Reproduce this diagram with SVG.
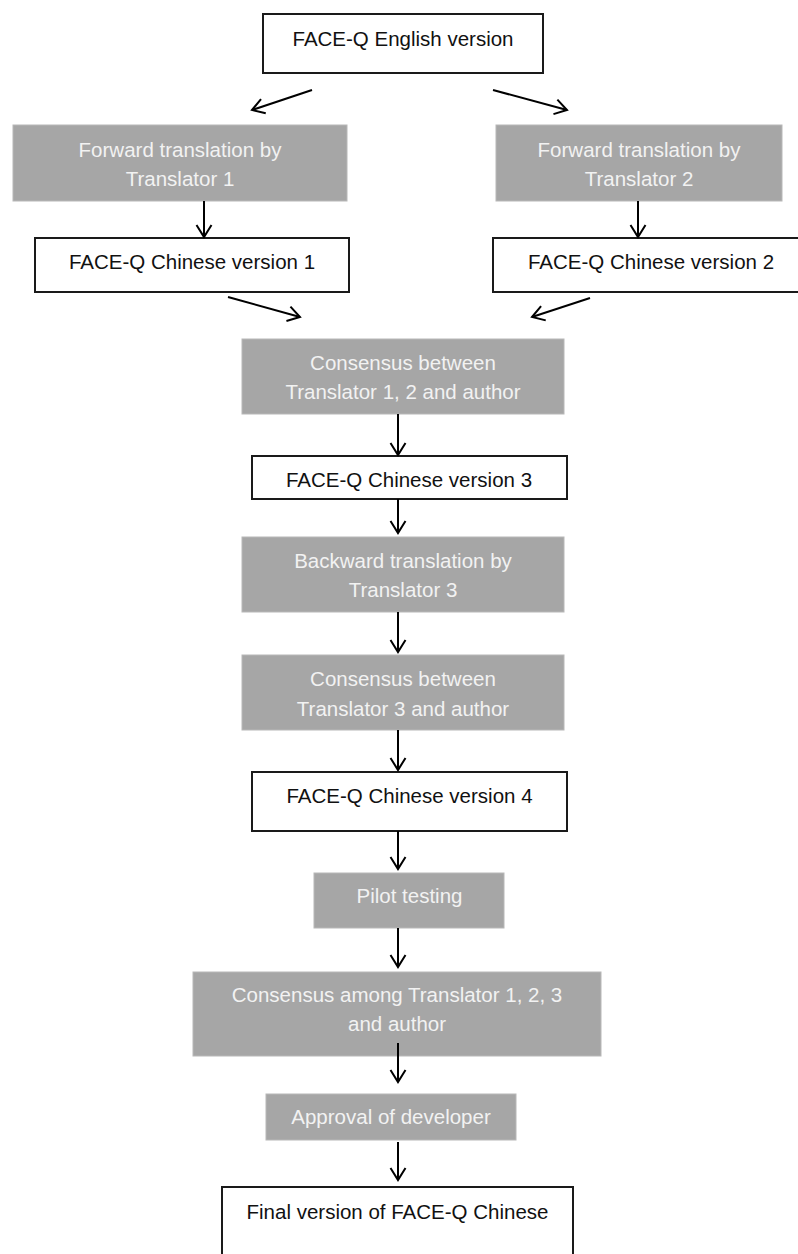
<svg xmlns="http://www.w3.org/2000/svg" width="798" height="1254" viewBox="0 0 798 1254">
<defs>
<style>
.w{fill:#ffffff;stroke:#1a1a1a;stroke-width:2}
.g{fill:#a6a6a6;stroke:#b8b8b8;stroke-width:1}
.tb{font-family:"Liberation Sans",Arial,sans-serif;font-size:20.5px;fill:#111111;text-anchor:middle}
.tw{font-family:"Liberation Sans",Arial,sans-serif;font-size:20.5px;fill:#f2f2f2;text-anchor:middle}
.c{stroke:#000000;stroke-width:2;fill:none;marker-end:url(#ah)}
</style>
<marker id="ah" markerUnits="userSpaceOnUse" markerWidth="20" markerHeight="20" refX="0" refY="0" viewBox="-14 -10 16 20" orient="auto">
<path d="M-12,-7.5 L0,0 L-12,7.5" fill="none" stroke="#000000" stroke-width="2"/>
</marker>
</defs>
<rect width="798" height="1254" fill="#ffffff"/>
<g id="english"><rect class="w" x="263" y="14" width="280" height="59"/><text class="tb" x="403" y="46">FACE-Q English version</text></g>
<g id="fwd1"><rect class="g" x="13" y="125" width="334" height="76"/><text class="tw" x="180" y="157">Forward translation by</text><text class="tw" x="180" y="186">Translator 1</text></g>
<g id="fwd2"><rect class="g" x="496" y="125" width="286" height="76"/><text class="tw" x="639" y="157">Forward translation by</text><text class="tw" x="639" y="186">Translator 2</text></g>
<g id="cn1"><rect class="w" x="35" y="238" width="314" height="54"/><text class="tb" x="192" y="269">FACE-Q Chinese version 1</text></g>
<g id="cn2"><rect class="w" x="493" y="238" width="316" height="54"/><text class="tb" x="651" y="269">FACE-Q Chinese version 2</text></g>
<g id="cons12"><rect class="g" x="242" y="339" width="322" height="75"/><text class="tw" x="403" y="370">Consensus between</text><text class="tw" x="403" y="399">Translator 1, 2 and author</text></g>
<g id="cn3"><rect class="w" x="252" y="456" width="315" height="43"/><text class="tb" x="409" y="487">FACE-Q Chinese version 3</text></g>
<g id="back"><rect class="g" x="242" y="537" width="322" height="75"/><text class="tw" x="403" y="568">Backward translation by</text><text class="tw" x="403" y="597">Translator 3</text></g>
<g id="cons3"><rect class="g" x="242" y="655" width="322" height="75"/><text class="tw" x="403" y="686">Consensus between</text><text class="tw" x="403" y="716">Translator 3 and author</text></g>
<g id="cn4"><rect class="w" x="252" y="772" width="315" height="59"/><text class="tb" x="409.5" y="803">FACE-Q Chinese version 4</text></g>
<g id="pilot"><rect class="g" x="314" y="873" width="190" height="55"/><text class="tw" x="409.5" y="903">Pilot testing</text></g>
<g id="consall"><rect class="g" x="193" y="972" width="408" height="84"/><text class="tw" x="397" y="1002">Consensus among Translator 1, 2, 3</text><text class="tw" x="397" y="1031">and author</text></g>
<g id="approval"><rect class="g" x="266" y="1094" width="250" height="46"/><text class="tw" x="391" y="1124">Approval of developer</text></g>
<g id="final"><rect class="w" x="222" y="1187" width="351" height="80"/><text class="tb" x="397.5" y="1219">Final version of FACE-Q Chinese</text></g>
<g id="connectors">
<line class="c" x1="312" y1="90" x2="252" y2="110"/>
<line class="c" x1="493" y1="90" x2="567" y2="110"/>
<line class="c" x1="204" y1="201" x2="204" y2="237"/>
<line class="c" x1="638" y1="201" x2="638" y2="237"/>
<line class="c" x1="228" y1="297" x2="300" y2="317"/>
<line class="c" x1="590" y1="298" x2="532" y2="317"/>
<line class="c" x1="398" y1="414" x2="398" y2="455"/>
<line class="c" x1="398" y1="499" x2="398" y2="533"/>
<line class="c" x1="398" y1="612" x2="398" y2="652"/>
<line class="c" x1="398" y1="730" x2="398" y2="770"/>
<line class="c" x1="398" y1="831" x2="398" y2="869"/>
<line class="c" x1="398" y1="928" x2="398" y2="967"/>
<line class="c" x1="398" y1="1043" x2="398" y2="1082"/>
<line class="c" x1="398" y1="1142" x2="398" y2="1180"/>
</g>
</svg>
